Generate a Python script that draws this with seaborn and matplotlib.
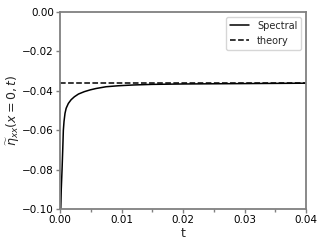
import numpy as np
import pandas as pd
import matplotlib
matplotlib.use('Agg')
import matplotlib.pyplot as plt
from matplotlib.ticker import MultipleLocator
import seaborn as sns

# values
t = [0.0001, 0.0002, 0.00033, 0.00045, 0.00054, 0.00065, 0.00081, 0.001, 0.00135, 0.0018,
     0.00233, 0.003, 0.00395, 0.0049, 0.00585, 0.0075, 0.0095, 0.012, 0.015, 0.020,
     0.025, 0.030, 0.035, 0.040]
eta = [-0.102, -0.090, -0.080, -0.069, -0.060, -0.0555, -0.0514, -0.0488, -0.0464, -0.0445,
       -0.0430, -0.0416, -0.0404, -0.0395, -0.0388, -0.0379, -0.0374, -0.0370, -0.0367, -0.0365,
       -0.0364, -0.0363, -0.0362, -0.0361]
theory = -0.0362

df = pd.DataFrame({'t': t, 'eta': eta})

sns.set_style('ticks')
fig = plt.figure(figsize=(3.28, 2.46), dpi=100)
ax = fig.add_axes([0.183, 0.150, 0.750, 0.801])

sns.lineplot(data=df, x='t', y='eta', color='black', lw=1.1, label='Spectral', ax=ax)
ax.axhline(theory, color='black', ls='--', lw=1.1, label='theory')

ax.set_xlim(0, 0.04)
ax.set_ylim(-0.1, 0.0)
ax.xaxis.set_major_locator(MultipleLocator(0.01))
ax.xaxis.set_minor_locator(MultipleLocator(0.005))
ax.yaxis.set_major_locator(MultipleLocator(0.02))

for s in ax.spines.values():
    s.set_color('#808080')
    s.set_linewidth(1.3)
ax.tick_params(which='major', colors='#808080', labelcolor='black', labelsize=7.5, length=3, width=1, pad=1.5)
ax.tick_params(which='minor', colors='#808080', length=2, width=1)

ax.set_xlabel('t', fontsize=9, labelpad=1)
ax.set_ylabel(r'$\widetilde{\eta}_{xx}(x=0,t)$', fontsize=9, labelpad=0)

ax.legend(loc='upper right', fontsize=7, frameon=True, handlelength=2.0)

fig.savefig('out.png', dpi=100)
